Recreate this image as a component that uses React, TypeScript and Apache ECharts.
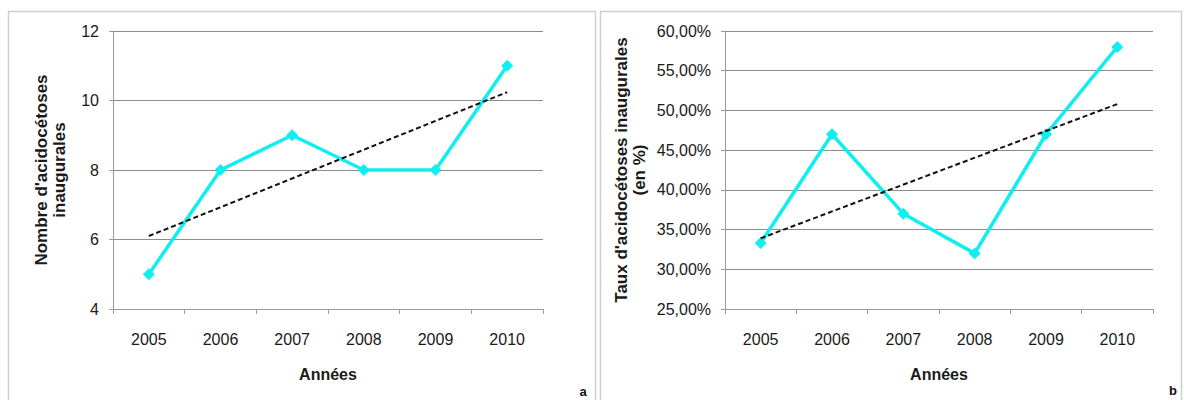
import React, { useEffect, useRef } from "react";
import * as echarts from "echarts";

const years = ["2005", "2006", "2007", "2008", "2009", "2010"];
const countValues = [5, 8, 9, 8, 8, 11];
const countTrend = [6.1, 10.24];
const rateValues = [33.3, 47, 37, 32, 47, 58];
const rateTrend = [33.9, 50.8];

const countTicks = { min: 4, max: 12, interval: 2 };
const rateTicks = { min: 25, max: 60, interval: 5 };

const CYAN = "#10EEF0";
const FONT = "Liberation Sans, Arial, sans-serif";

export default function App() {
  const ref = useRef<HTMLDivElement>(null);
  useEffect(() => {
    if (!ref.current) return;
    const chart = echarts.init(ref.current, null, { renderer: "svg" });

    const xAxisBase = (gridIndex: number) => ({
      type: "category",
      gridIndex,
      data: years,
      boundaryGap: true,
      axisLine: { lineStyle: { color: "#9a9a9a", width: 1 } },
      axisTick: { show: true, length: 5, lineStyle: { color: "#9a9a9a" } },
      axisLabel: { color: "#1a1a1a", fontSize: 16, fontFamily: FONT, margin: 22 },
      name: "Années",
      nameLocation: "middle",
      nameGap: 57,
      nameTextStyle: { color: "#1a1a1a", fontSize: 16, fontWeight: "bold", fontFamily: FONT },
    });

    const yAxisBase = (gridIndex: number, t: any, name: string, gap: number, fmt: (v: number) => string) => ({
      type: "value",
      gridIndex,
      min: t.min,
      max: t.max,
      interval: t.interval,
      axisLine: { show: true, lineStyle: { color: "#9a9a9a", width: 1 } },
      axisTick: { show: true, length: 4, lineStyle: { color: "#9a9a9a" } },
      splitLine: { show: true, lineStyle: { color: "#8c8c8c", width: 1 } },
      axisLabel: { color: "#1a1a1a", fontSize: 16, fontFamily: FONT, margin: 14, formatter: fmt },
      name,
      nameLocation: "middle",
      nameGap: gap,
      nameRotate: 90,
      nameTextStyle: { color: "#1a1a1a", fontSize: 17, fontWeight: "bold", fontFamily: FONT, lineHeight: 18 },
    });

    const mainSeries = (idx: number, data: number[]) => ({
      type: "line",
      xAxisIndex: idx,
      yAxisIndex: idx,
      data,
      lineStyle: { color: CYAN, width: 3.5 },
      itemStyle: { color: CYAN },
      symbol: "diamond",
      symbolSize: 12,
      z: 2,
    });

    const trendSeries = (idx: number, t: number[]) => ({
      type: "line",
      xAxisIndex: idx,
      yAxisIndex: idx,
      data: [
        [years[0], t[0]],
        [years[years.length - 1], t[1]],
      ],
      lineStyle: { color: "#111", width: 2, type: [5, 3] },
      symbol: "none",
      z: 3,
    });

    chart.setOption({
      animation: false,
      backgroundColor: "#ffffff",
      grid: [
        { left: 113, top: 31, width: 430, height: 278 },
        { left: 725, top: 31, width: 428, height: 278 },
      ],
      xAxis: [xAxisBase(0), xAxisBase(1)],
      yAxis: [
        yAxisBase(0, countTicks, "Nombre d'acidocétoses\ninaugurales", 45, (v: number) => String(v)),
        yAxisBase(1, rateTicks, "Taux d'acidocétoses inaugurales\n(en %)", 77, (v: number) => v.toFixed(2).replace(".", ",") + "%"),
      ],
      series: [
        mainSeries(0, countValues),
        trendSeries(0, countTrend),
        mainSeries(1, rateValues),
        trendSeries(1, rateTrend),
      ],
      graphic: [
        { type: "rect", shape: { x: 8.5, y: 11.5, width: 587, height: 400 }, style: { fill: "none", stroke: "#cfcfcf", lineWidth: 1.5 }, silent: true },
        { type: "rect", shape: { x: 600.5, y: 11.5, width: 581, height: 400 }, style: { fill: "none", stroke: "#cfcfcf", lineWidth: 1.5 }, silent: true },
        { type: "text", x: 583, y: 391, style: { text: "a", fill: "#111", font: "bold 13px " + FONT, textAlign: "center", textVerticalAlign: "middle" } },
        { type: "text", x: 1173, y: 390, style: { text: "b", fill: "#111", font: "bold 13px " + FONT, textAlign: "center", textVerticalAlign: "middle" } },
      ],
    });
    return () => chart.dispose();
  }, []);
  return <div ref={ref} style={{ position: "fixed", left: 0, top: 0, width: 1184, height: 400 }} />;
}
